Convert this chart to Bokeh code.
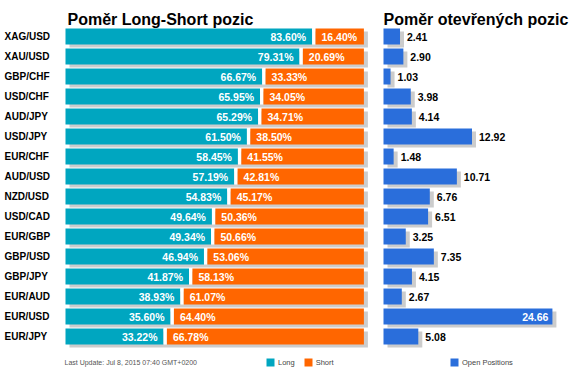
from bokeh.plotting import figure
from bokeh.models import ColumnDataSource, Range1d, Label, LabelSet, Legend, LegendItem
from bokeh.core.properties import value
from bokeh.embed import file_html
from bokeh.resources import INLINE

# ---------------- data ----------------
pairs = ["XAG/USD", "XAU/USD", "GBP/CHF", "USD/CHF", "AUD/JPY", "USD/JPY", "EUR/CHF", "AUD/USD",
         "NZD/USD", "USD/CAD", "EUR/GBP", "GBP/USD", "GBP/JPY", "EUR/AUD", "EUR/USD", "EUR/JPY"]
long_pct = [83.60, 79.31, 66.67, 65.95, 65.29, 61.50, 58.45, 57.19,
            54.83, 49.64, 49.34, 46.94, 41.87, 38.93, 35.60, 33.22]
short_pct = [16.40, 20.69, 33.33, 34.05, 34.71, 38.50, 41.55, 42.81,
             45.17, 50.36, 50.66, 53.06, 58.13, 61.07, 64.40, 66.78]
open_pos = [2.41, 2.90, 1.03, 3.98, 4.14, 12.92, 1.48, 10.71,
            6.76, 6.51, 3.25, 7.35, 4.15, 2.67, 24.66, 5.08]

title_left = "Poměr Long-Short pozic"
title_right = "Poměr otevřených pozic"
footer = "Last Update: Jul 8, 2015 07:40 GMT+0200"

# ---------------- layout / style ----------------
W, H = 573, 375
L_X0, L_S = 65.0, 2.95      # left chart: pixel origin, px per percent
R_X0, R_S = 383.0, 6.85     # right chart: pixel origin, px per unit
Y0, DY = 36.0, 20.0         # first row center, row pitch
SH_DX, SH_DY = 4, 3         # shadow offset (px)
GAP = 3.4 / L_S             # white gap between long and short (data units)
BAR_H = 16 / DY

TEAL = "#00a6c0"
ORANGE = "#ff6600"
BLUE = "#2a6edb"
SHADOW = "#cccccc"
FONT = "Liberation Sans"


def xr(x0, s, dx=0.0):
    return Range1d(start=(0 - x0 - dx) / s, end=(W - x0 - dx) / s)


def yr(dy=0.0):
    return Range1d(start=(H - Y0 - dy) / DY, end=(0 - Y0 - dy) / DY)


rows = list(range(len(pairs)))
short_left = [l + GAP for l in long_pct]
short_right = [sl + s for sl, s in zip(short_left, short_pct)]
op_max = max(open_pos)
op_inside = [v == op_max for v in open_pos]

src = ColumnDataSource(dict(
    row=rows, pair=pairs, long=long_pct, short_left=short_left, short_right=short_right,
    long_txt=[f"{v:.2f}%" for v in long_pct],
    short_txt=[f"{v:.2f}%" for v in short_pct],
    op=open_pos,
    op_txt=[f"{v:.2f}" for v in open_pos],
    op_align=["right" if i else "left" for i in op_inside],
    op_color=["white" if i else "black" for i in op_inside],
    op_off=[-4 if i else 7 for i in op_inside],
))

p = figure(width=W, height=H, x_range=xr(L_X0, L_S), y_range=yr(),
           output_backend="svg", toolbar_location=None, min_border=0,
           x_axis_location=None, y_axis_location=None, outline_line_color=None,
           background_fill_color="white", border_fill_color="white")
p.grid.visible = False
p.extra_x_ranges = {"ls_sh": xr(L_X0, L_S, SH_DX), "op": xr(R_X0, R_S), "op_sh": xr(R_X0, R_S, SH_DX)}
p.extra_y_ranges = {"sh": yr(SH_DY)}

# left chart
p.hbar(y="row", left=0, right="short_right", height=BAR_H, source=src,
       fill_color=SHADOW, line_color=None, x_range_name="ls_sh", y_range_name="sh")
long_r = p.hbar(y="row", left=0, right="long", height=BAR_H, source=src,
                fill_color=TEAL, line_color=None)
p.hbar(y="row", left="long", right="short_left", height=BAR_H, source=src,
       fill_color="white", line_color=None)
short_r = p.hbar(y="row", left="short_left", right="short_right", height=BAR_H, source=src,
                 fill_color=ORANGE, line_color=None)
p.text(x="long", y="row", text="long_txt", x_offset=-6, source=src,
       text_align="right", text_baseline="middle", text_color="white",
       text_font=value(FONT), text_font_style="bold", text_font_size="10.5px")
p.text(x="short_left", y="row", text="short_txt", x_offset=6, source=src,
       text_align="left", text_baseline="middle", text_color="white",
       text_font=value(FONT), text_font_style="bold", text_font_size="10.5px")

# right chart
p.hbar(y="row", left=0, right="op", height=BAR_H, source=src,
       fill_color=SHADOW, line_color=None, x_range_name="op_sh", y_range_name="sh")
op_r = p.hbar(y="row", left=0, right="op", height=BAR_H, source=src,
              fill_color=BLUE, line_color=None, x_range_name="op")
p.text(x="op", y="row", text="op_txt", x_offset="op_off", source=src, x_range_name="op",
       text_align="op_align", text_baseline="middle", text_color="op_color",
       text_font=value(FONT), text_font_style="bold", text_font_size="10.5px")

# category labels
p.add_layout(LabelSet(x=4, x_units="screen", y="row", text="pair", source=src,
                      text_align="left", text_baseline="middle", text_color="black",
                      text_font=value(FONT), text_font_style="bold", text_font_size="10px"))

# titles and footer
for tx, t in ((67, title_left), (383, title_right)):
    p.add_layout(Label(x=tx, y=H - 19, x_units="screen", y_units="screen", text=t,
                       text_font=FONT, text_font_style="bold", text_font_size="16px",
                       text_color="black", text_baseline="alphabetic"))
p.add_layout(Label(x=64, y=H - 362, x_units="screen", y_units="screen", text=footer,
                   text_font=FONT, text_font_size="7px", text_color="#555555",
                   text_baseline="middle"))

# legends
def mk_legend(items, loc):
    lg = Legend(items=items, location=loc, orientation="horizontal",
                glyph_width=10, glyph_height=10, label_standoff=3, spacing=8,
                padding=0, margin=0, label_width=0, label_height=10,
                border_line_color=None, background_fill_alpha=0,
                label_text_font=FONT, label_text_font_size="7.5px",
                label_text_color="#444444")
    return lg

p.add_layout(mk_legend([LegendItem(label="Long", renderers=[long_r]),
                        LegendItem(label="Short", renderers=[short_r])], (265, H - 367)))
p.add_layout(mk_legend([LegendItem(label="Open Positions", renderers=[op_r])], (449, H - 367)))

open("out.html", "w").write(file_html(p, INLINE))
